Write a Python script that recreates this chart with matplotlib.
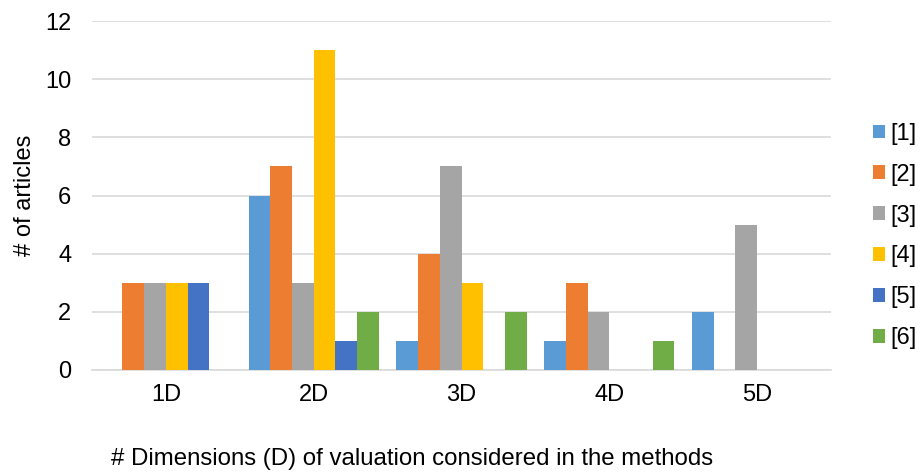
import numpy as np
import matplotlib.pyplot as plt

plt.rcParams['font.family'] = ['Liberation Sans', 'DejaVu Sans']

categories = ['1D', '2D', '3D', '4D', '5D']
series_names = ['[1]', '[2]', '[3]', '[4]', '[5]', '[6]']
s1 = [0, 6, 1, 1, 2]
s2 = [3, 7, 4, 3, 0]
s3 = [3, 3, 7, 2, 5]
s4 = [3, 11, 3, 0, 0]
s5 = [3, 1, 0, 0, 0]
s6 = [0, 2, 2, 1, 0]
series = [s1, s2, s3, s4, s5, s6]
colors = ['#5B9BD5', '#ED7D31', '#A5A5A5', '#FFC000', '#4472C4', '#70AD47']

fs = 17

fig = plt.figure(figsize=(9.21, 4.72), dpi=100)
ax = fig.add_axes([92 / 921, 1 - 370 / 472, (831 - 92) / 921, (370 - 21) / 472])

x = np.arange(len(categories))
w = 0.147
for i, (vals, c, name) in enumerate(zip(series, colors, series_names)):
    ax.bar(x + (i - 2.5) * w, vals, width=w, color=c, label=name, zorder=3)

ax.set_xlim(-0.5, len(categories) - 0.5)
ax.set_ylim(0, 12)
ax.set_yticks(range(0, 13, 2))
ax.set_xticks(x)
ax.set_xticklabels(categories)
ax.tick_params(axis='both', length=0, labelsize=fs, colors='black')
ax.tick_params(axis='x', pad=10)
ax.tick_params(axis='y', pad=15)
ax.grid(axis='y', color='#D9D9D9', linewidth=1.2, zorder=0)
for s in ['top', 'right', 'left']:
    ax.spines[s].set_visible(False)
ax.spines['bottom'].set_color('#D9D9D9')
ax.spines['bottom'].set_linewidth(1.2)

fig.text(25 / 921, 1 - 195 / 472, '# of articles', fontsize=fs, rotation=90,
         ha='center', va='center')
fig.text(412 / 921, 1 - 459 / 472, '# Dimensions (D) of valuation considered in the methods',
         fontsize=17.3, ha='center', va='center')

ax.legend(loc='center left', bbox_to_anchor=(873 / 921, 1 - 236 / 472), bbox_transform=fig.transFigure,
          frameon=False, fontsize=fs, handlelength=0.52, handleheight=0.52, handletextpad=0.22,
          labelspacing=0.8, borderpad=0, borderaxespad=0)

plt.savefig('out.png', dpi=100)
